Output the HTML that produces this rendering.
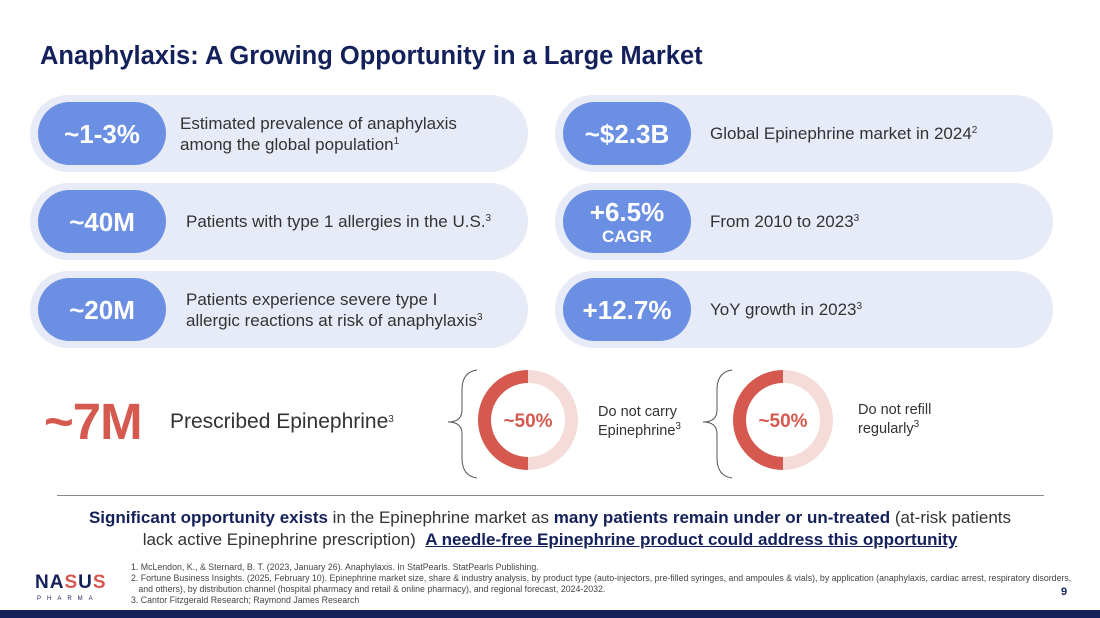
<!DOCTYPE html>
<html><head><meta charset="utf-8"><style>
*{margin:0;padding:0;box-sizing:border-box}
body{width:1100px;height:618px;background:#fff;font-family:"Liberation Sans",sans-serif;position:relative;overflow:hidden;color:#2a2f45}
.abs{position:absolute}
h1{position:absolute;left:40px;top:42px;font-size:25.5px;font-weight:bold;color:#14205a;white-space:nowrap}
.pill{position:absolute;width:498px;height:77px;background:#e6ebf7;border-radius:39px}
.badge{position:absolute;left:8px;top:7px;width:128px;height:63px;background:#6b8fe3;border-radius:32px;color:#fff;font-weight:bold;font-size:26px;display:flex;align-items:center;justify-content:center;text-align:center;line-height:1}
.ptxt{position:absolute;left:150px;top:0;height:77px;display:flex;align-items:center;font-size:17px;color:#333;line-height:21px}
sup{font-size:10px;vertical-align:6px;line-height:0}
.foot{font-size:8.8px;color:#444;line-height:11px;white-space:nowrap}
</style></head><body>
<h1>Anaphylaxis: A Growing Opportunity in a Large Market</h1>

<div class="pill" style="left:30px;top:95px"><div class="badge">~1-3%</div><div class="ptxt" style="left:150px"><span>Estimated prevalence of anaphylaxis<br>among the global population<sup>1</sup></span></div></div>
<div class="pill" style="left:30px;top:183px"><div class="badge">~40M</div><div class="ptxt" style="left:156px"><span>Patients with type 1 allergies in the U.S.<sup>3</sup></span></div></div>
<div class="pill" style="left:30px;top:271px"><div class="badge">~20M</div><div class="ptxt" style="left:156px"><span>Patients experience severe type I<br>allergic reactions at risk of anaphylaxis<sup>3</sup></span></div></div>

<div class="pill" style="left:555px;top:95px"><div class="badge">~$2.3B</div><div class="ptxt" style="left:155px"><span>Global Epinephrine market in 2024<sup>2</sup></span></div></div>
<div class="pill" style="left:555px;top:183px"><div class="badge" style="flex-direction:column"><span>+6.5%</span><span style="font-size:17px;margin-top:3px">CAGR</span></div><div class="ptxt" style="left:155px"><span>From 2010 to 2023<sup>3</sup></span></div></div>
<div class="pill" style="left:555px;top:271px"><div class="badge">+12.7%</div><div class="ptxt" style="left:155px"><span>YoY growth in 2023<sup>3</sup></span></div></div>

<div class="abs" style="left:44px;top:392px;font-size:51px;font-weight:bold;color:#d6594f;letter-spacing:-1px">~7M</div>
<div class="abs" style="left:170px;top:410px;font-size:21px;color:#333">Prescribed Epinephrine<sup>3</sup></div>

<svg class="abs" style="left:0;top:0" width="1100" height="618" id="donuts">
<path d="M477,370 Q462,372 462,390 L462,410 Q462,422 448,422 Q462,422 462,434 L462,458 Q462,476 477,478" fill="none" stroke="#555" stroke-width="1"/>
<path d="M732,370 Q717,372 717,390 L717,410 Q717,422 703,422 Q717,422 717,434 L717,458 Q717,476 732,478" fill="none" stroke="#555" stroke-width="1"/>
</svg>
<div class="abs" style="left:598px;top:403px;font-size:14.5px;line-height:19px;color:#333">Do not carry<br>Epinephrine<sup>3</sup></div>
<div class="abs" style="left:858px;top:401px;font-size:14.5px;line-height:19px;color:#333">Do not refill<br>regularly<sup>3</sup></div>

<div class="abs" style="left:57px;top:495px;width:987px;height:1px;background:#888"></div>
<div class="abs" style="left:20px;top:507px;width:1060px;text-align:center;font-size:17px;line-height:22px;color:#333"><b style="color:#14205a">Significant opportunity exists</b> in the Epinephrine market as <b style="color:#14205a">many patients remain under or un-treated</b> (at-risk patients<br>lack active Epinephrine prescription) &nbsp;<b style="color:#14205a;text-decoration:underline">A needle-free Epinephrine product could address this opportunity</b></div>

<div class="abs" style="left:35px;top:572px;font-size:19px;font-weight:bold;color:#14205a;letter-spacing:1px">NA<span style="color:#d6594f">S</span>U<span style="color:#d6594f">S</span></div>
<div class="abs" style="left:37px;top:596px;font-size:6px;letter-spacing:6px;color:#14205a">PHARMA</div>
<div class="abs foot" style="left:131px;top:562px">1. McLendon, K., &amp; Sternard, B. T. (2023, January 26). Anaphylaxis. In StatPearls. StatPearls Publishing.<br>2. Fortune Business Insights. (2025, February 10). Epinephrine market size, share &amp; industry analysis, by product type (auto-injectors, pre-filled syringes, and ampoules &amp; vials), by application (anaphylaxis, cardiac arrest, respiratory disorders,<br>&nbsp;&nbsp;&nbsp;and others), by distribution channel (hospital pharmacy and retail &amp; online pharmacy), and regional forecast, 2024-2032.<br>3. Cantor Fitzgerald Research; Raymond James Research</div>
<div class="abs" style="left:1061px;top:586px;font-size:11px;font-weight:bold;color:#14205a">9</div>
<div class="abs" style="left:0;top:610px;width:1100px;height:8px;background:#14205a"></div>

<script>
const donutLabels = ["Do not carry", "Do not refill"];
const donutValues = [50, 50];
const donutCenterText = ["~50%", "~50%"];
const svg = document.getElementById('donuts');
const NS = 'http://www.w3.org/2000/svg';
const centers = [[528,420],[783,420]];
const rO = 50, rI = 37;
function arcPath(cx, cy, a0, a1){
  const p = (r,a)=>[cx + r*Math.sin(a), cy - r*Math.cos(a)];
  const large = (a1 - a0) > Math.PI ? 1 : 0;
  const [x0,y0]=p(rO,a0),[x1,y1]=p(rO,a1),[x2,y2]=p(rI,a1),[x3,y3]=p(rI,a0);
  return `M${x0},${y0} A${rO},${rO} 0 ${large} 1 ${x1},${y1} L${x2},${y2} A${rI},${rI} 0 ${large} 0 ${x3},${y3} Z`;
}
donutValues.forEach((v,i)=>{
  const [cx,cy]=centers[i];
  const bg=document.createElementNS(NS,'circle');
  bg.setAttribute('cx',cx);bg.setAttribute('cy',cy);bg.setAttribute('r',(rO+rI)/2);
  bg.setAttribute('fill','none');bg.setAttribute('stroke','#f5dcd9');bg.setAttribute('stroke-width',rO-rI);
  
  
  svg.appendChild(bg);
  const frac=Math.min(v,99.99)/100;
  const path=document.createElementNS(NS,'path');
  path.setAttribute('d',arcPath(cx,cy,-2*Math.PI*frac,0));
  path.setAttribute('fill','#d6594f');
  
  
  svg.appendChild(path);
  const t=document.createElementNS(NS,'text');
  t.setAttribute('x',cx);t.setAttribute('y',cy+7);t.setAttribute('text-anchor','middle');
  t.setAttribute('font-size','19');t.setAttribute('font-weight','bold');t.setAttribute('fill','#d6594f');
  t.setAttribute('font-family','Liberation Sans, sans-serif');
  t.textContent=donutCenterText[i];
  
  
  svg.appendChild(t);
});
</script>
</body></html>
